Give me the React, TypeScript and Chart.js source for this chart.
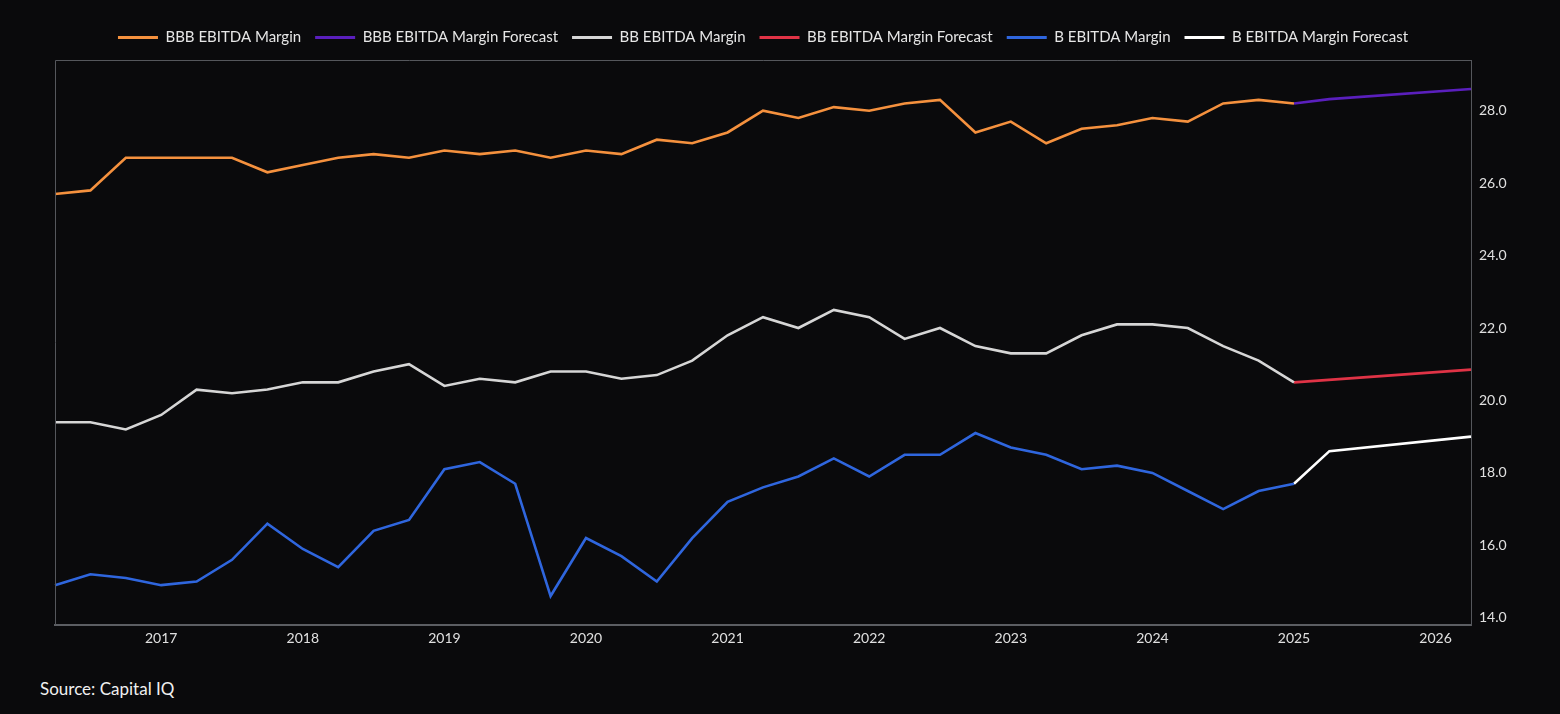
import React, { useEffect, useRef } from "react";
import { Chart, registerables } from "chart.js";

Chart.register(...registerables);

// Quarterly categories Q2 2016 .. Q2 2026
const quarters: string[] = [
  "Q2 2016", "Q3 2016", "Q4 2016",
  "Q1 2017", "Q2 2017", "Q3 2017", "Q4 2017",
  "Q1 2018", "Q2 2018", "Q3 2018", "Q4 2018",
  "Q1 2019", "Q2 2019", "Q3 2019", "Q4 2019",
  "Q1 2020", "Q2 2020", "Q3 2020", "Q4 2020",
  "Q1 2021", "Q2 2021", "Q3 2021", "Q4 2021",
  "Q1 2022", "Q2 2022", "Q3 2022", "Q4 2022",
  "Q1 2023", "Q2 2023", "Q3 2023", "Q4 2023",
  "Q1 2024", "Q2 2024", "Q3 2024", "Q4 2024",
  "Q1 2025", "Q2 2025", "Q3 2025", "Q4 2025",
  "Q1 2026", "Q2 2026",
];

const bbbMargin: (number | null)[] = [
  25.7, 25.8, 26.7, 26.7, 26.7, 26.7, 26.3, 26.5, 26.7, 26.8, 26.7, 26.9,
  26.8, 26.9, 26.7, 26.9, 26.8, 27.2, 27.1, 27.4, 28.0, 27.8, 28.1, 28.0,
  28.2, 28.3, 27.4, 27.7, 27.1, 27.5, 27.6, 27.8, 27.7, 28.2, 28.3, 28.2,
  null, null, null, null, null,
];
const bbbForecast: (number | null)[] = [
  ...Array(35).fill(null), 28.2, 28.32, null, null, null, 28.6,
];

const bbMargin: (number | null)[] = [
  19.4, 19.4, 19.2, 19.6, 20.3, 20.2, 20.3, 20.5, 20.5, 20.8, 21.0, 20.4,
  20.6, 20.5, 20.8, 20.8, 20.6, 20.7, 21.1, 21.8, 22.3, 22.0, 22.5, 22.3,
  21.7, 22.0, 21.5, 21.3, 21.3, 21.8, 22.1, 22.1, 22.0, 21.5, 21.1, 20.5,
  null, null, null, null, null,
];
const bbForecast: (number | null)[] = [
  ...Array(35).fill(null), 20.5, null, null, null, null, 20.85,
];

const bMargin: (number | null)[] = [
  14.9, 15.2, 15.1, 14.9, 15.0, 15.6, 16.6, 15.9, 15.4, 16.4, 16.7, 18.1,
  18.3, 17.7, 14.6, 16.2, 15.7, 15.0, 16.2, 17.2, 17.6, 17.9, 18.4, 17.9,
  18.5, 18.5, 19.1, 18.7, 18.5, 18.1, 18.2, 18.0, 17.5, 17.0, 17.5, 17.7,
  null, null, null, null, null,
];
const bForecast: (number | null)[] = [
  ...Array(35).fill(null), 17.7, 18.6, null, null, null, 19.0,
];

const yTicks: number[] = [14, 16, 18, 20, 22, 24, 26, 28];

const FONT = "Lato, 'Open Sans', sans-serif";
const BG = "#0a0a0c";

export default function App() {
  const ref = useRef<HTMLCanvasElement | null>(null);

  useEffect(() => {
    if (!ref.current) return;

    const borderPlugin = {
      id: "plotBorder",
      beforeInit(chart: any) {
        const legend = chart.legend;
        if (legend) {
          const orig = legend.fit;
          legend.fit = function () {
            orig.call(this);
            this.height = 44;
          };
        }
      },
      afterDraw(chart: any) {
        const { ctx, chartArea } = chart;
        ctx.save();
        ctx.strokeStyle = "#55575c";
        ctx.lineWidth = 1;
        ctx.beginPath();
        ctx.moveTo(chartArea.left + 0.5, chartArea.bottom);
        ctx.lineTo(chartArea.left + 0.5, chartArea.top + 0.5);
        ctx.lineTo(chartArea.right, chartArea.top + 0.5);
        ctx.stroke();
        ctx.restore();
      },
    };

    const mk = (label: string, data: (number | null)[], color: string) => ({
      label,
      data,
      borderColor: color,
      backgroundColor: color,
      borderWidth: 2.6,
      pointRadius: 0,
      pointHoverRadius: 0,
      tension: 0,
      spanGaps: true,
      fill: false,
    });

    const chart = new Chart(ref.current, {
      type: "line",
      data: {
        labels: quarters,
        datasets: [
          mk("BBB EBITDA Margin", bbbMargin, "#f5913e"),
          mk("BBB EBITDA Margin Forecast", bbbForecast, "#5a1fbd"),
          mk("BB EBITDA Margin", bbMargin, "#d6d6d6"),
          mk("BB EBITDA Margin Forecast", bbForecast, "#e03346"),
          mk("B EBITDA Margin", bMargin, "#2f66de"),
          mk("B EBITDA Margin Forecast", bForecast, "#ffffff"),
        ],
      },
      options: {
        animation: false,
        responsive: false,
        maintainAspectRatio: false,
        layout: { padding: { top: 16, left: 55, right: 0, bottom: 0 } },
        plugins: {
          legend: {
            position: "top",
            fullSize: false,
            labels: {
              color: "#e6e6e6",
              font: { family: FONT, size: 15 },
              boxWidth: 40,
              boxHeight: 3,
              padding: 14,
              generateLabels(chart: any) {
                return chart.data.datasets.map((ds: any, i: number) => ({
                  text: ds.label,
                  fillStyle: ds.borderColor,
                  strokeStyle: ds.borderColor,
                  lineWidth: 0,
                  fontColor: "#e6e6e6",
                  hidden: false,
                  datasetIndex: i,
                }));
              },
            },
          },
          tooltip: { enabled: false },
        },
        scales: {
          x: {
            type: "category",
            offset: false,
            grid: { display: false, drawTicks: false },
            border: { display: true, color: "#5c5e63", width: 2 },
            afterFit(s: any) {
              s.height = 35;
            },
            ticks: {
              autoSkip: false,
              maxRotation: 0,
              color: "#e0e0e0",
              font: { family: FONT, size: 14 },
              padding: 5,
              callback(_v: any, idx: number) {
                const q = quarters[idx];
                return q.startsWith("Q1") ? q.slice(3) : "";
              },
            },
          },
          y: {
            position: "right",
            min: 13.8,
            max: 29.4,
            grid: { display: false, drawTicks: false },
            border: { display: true, color: "#55575c", width: 1 },
            afterBuildTicks(s: any) {
              s.ticks = yTicks.map((v) => ({ value: v }));
            },
            afterFit(s: any) {
              s.width = 89;
            },
            ticks: {
              color: "#e0e0e0",
              font: { family: FONT, size: 14 },
              padding: 8,
              callback(v: any) {
                return Number(v).toFixed(1);
              },
            },
          },
        },
      },
      plugins: [borderPlugin],
    } as any);

    return () => chart.destroy();
  }, []);

  return (
    <div
      style={{
        position: "absolute",
        left: 0,
        top: 0,
        width: 1560,
        height: 714,
        background: BG,
        overflow: "hidden",
      }}
    >
      <canvas ref={ref} width={1560} height={660} style={{ display: "block" }} />
      <div
        style={{
          position: "absolute",
          left: 40,
          top: 678,
          color: "#f0f0f0",
          fontFamily: FONT,
          fontSize: 17,
        }}
      >
        Source: Capital IQ
      </div>
    </div>
  );
}
